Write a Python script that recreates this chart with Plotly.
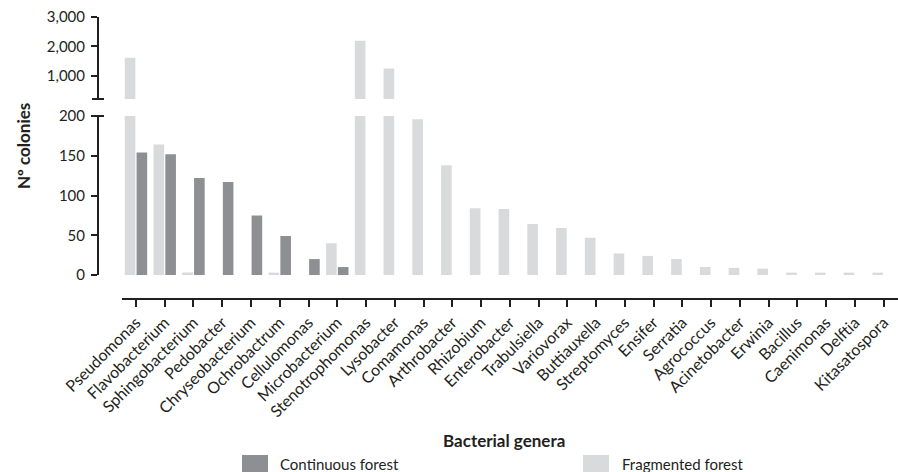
import plotly.graph_objects as go

genera = ["Pseudomonas", "Flavobacterium", "Sphingobacterium", "Pedobacter", "Chryseobacterium",
          "Ochrobactrum", "Cellulomonas", "Microbacterium", "Stenotrophomonas", "Lysobacter",
          "Comamonas", "Arthrobacter", "Rhizobium", "Enterobacter", "Trabulsiella", "Variovorax",
          "Buttiauxella", "Streptomyces", "Ensifer", "Serratia", "Agrococcus", "Acinetobacter",
          "Erwinia", "Bacillus", "Caenimonas", "Delftia", "Kitasatospora"]
fragmented = [1610, 164, 3, 0, 0, 3, 0, 40, 2190, 1240, 196, 138, 84, 83, 64, 59,
              47, 27, 24, 20, 10, 9, 8, 3, 3, 3, 3]
continuous = [154, 152, 122, 117, 75, 49, 20, 10, 0, 0, 0, 0, 0, 0, 0, 0,
              0, 0, 0, 0, 0, 0, 0, 0, 0, 0, 0]
lower_ticks = [0, 50, 100, 150, 200]
upper_ticks = [1000, 2000, 3000]

C_DARK = "#8e8f93"
C_LIGHT = "#d9dadc"
AX = "#231f20"
FONT = "Lato"

W, H = 898, 472
L, R, T, B = 98, 0, 10, 173
PW, PH = W - L - R, H - T - B

def fx(x):
    return (x - L) / PW

def fy(y):
    return (H - B - y) / PH

fig = go.Figure()
for ax in ["y", "y2"]:
    fig.add_trace(go.Bar(x=genera, y=fragmented, name="Fragmented forest", marker_color=C_LIGHT,
                         marker_line_width=0, yaxis=ax, showlegend=False))
    fig.add_trace(go.Bar(x=genera, y=continuous, name="Continuous forest", marker_color=C_DARK,
                         marker_line_width=0, yaxis=ax, showlegend=False))

yax_common = dict(anchor="free", position=0, showline=True, linecolor=AX, linewidth=2,
                  ticks="outside", ticklen=6, tickwidth=2, tickcolor=AX, showgrid=False,
                  zeroline=False, tickfont=dict(family=FONT, size=15, color=AX),
                  ticklabelstandoff=3)

fig.update_layout(
    width=W, height=H, margin=dict(l=L, r=R, t=T, b=B),
    paper_bgcolor="white", plot_bgcolor="white",
    barmode="group", bargap=0.18, bargroupgap=0.1,
    xaxis=dict(domain=[fx(121.6), 1], range=[-0.5, 26.5], anchor="free", position=0,
               showline=True, linecolor=AX, linewidth=2, ticks="outside", ticklen=7,
               tickwidth=2, tickcolor=AX, tickangle=-45, showgrid=False,
               tickfont=dict(family=FONT, size=16, color=AX)),
    yaxis=dict(domain=[fy(275), fy(116)], range=[0, 200], tickvals=lower_ticks, **yax_common),
    yaxis2=dict(domain=[fy(99), fy(17)], range=[200, 3000], tickvals=upper_ticks,
                tickformat=",", **yax_common),
    showlegend=False,
)

shapes = []
# axis break caps
for yy in [99, 116]:
    shapes.append(dict(type="line", xref="paper", yref="paper", x0=fx(92), x1=fx(104),
                       y0=fy(yy), y1=fy(yy), line=dict(color=AX, width=2)))
# custom legend squares
for x0, col in [(242, C_DARK), (583, C_LIGHT)]:
    shapes.append(dict(type="rect", xref="paper", yref="paper", x0=fx(x0), x1=fx(x0 + 26),
                       y0=fy(473), y1=fy(455), line=dict(width=0), fillcolor=col))
fig.update_layout(shapes=shapes)

annotations = [
    dict(text="<b>Nº colonies</b>", textangle=-90, xref="paper", yref="paper",
         x=fx(23), y=fy(146), xanchor="center", yanchor="middle", showarrow=False,
         font=dict(family=FONT, size=17, color=AX)),
    dict(text="<b>Bacterial genera</b>", xref="paper", yref="paper",
         x=fx(504), y=fy(440), xanchor="center", yanchor="middle", showarrow=False,
         font=dict(family=FONT, size=17, color=AX)),
    dict(text="Continuous forest", xref="paper", yref="paper", x=fx(278), y=fy(464),
         xanchor="left", yanchor="middle", showarrow=False,
         font=dict(family=FONT, size=15, color=AX)),
    dict(text="Fragmented forest", xref="paper", yref="paper", x=fx(620), y=fy(464),
         xanchor="left", yanchor="middle", showarrow=False,
         font=dict(family=FONT, size=15, color=AX)),
]
fig.update_layout(annotations=annotations)

fig.write_html("out.html")
